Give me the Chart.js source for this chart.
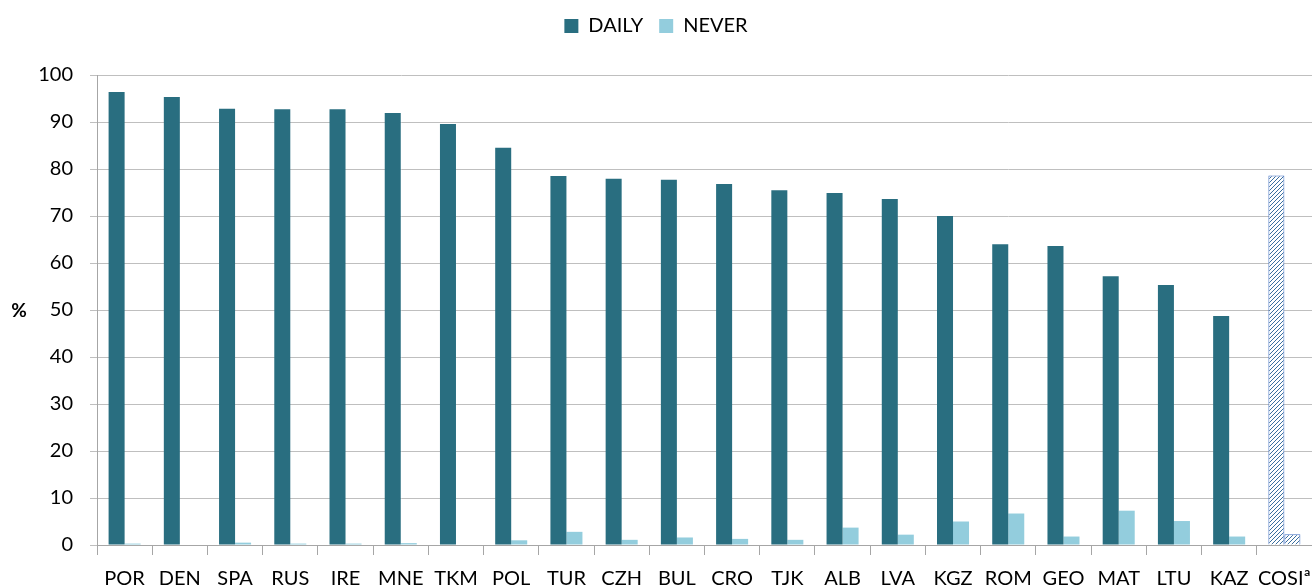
<!DOCTYPE html>
<html>
<head>
<meta charset="utf-8">
<script src="https://cdn.jsdelivr.net/npm/chart.js@4"></script>
<style>
  html, body { margin: 0; padding: 0; background: #fff; }
  #wrap { width: 1312px; height: 585px; position: relative; }
</style>
</head>
<body>
<div id="wrap"><canvas id="chart"></canvas></div>
<script>
const countries = ['POR', 'DEN', 'SPA', 'RUS', 'IRE', 'MNE', 'TKM', 'POL', 'TUR', 'CZH', 'BUL',
    'CRO', 'TJK', 'ALB', 'LVA', 'KGZ', 'ROM', 'GEO', 'MAT', 'LTU', 'KAZ', 'COSIª'];
const daily = [96.4, 95.3, 92.8, 92.7, 92.7, 91.9, 89.6, 84.5, 78.5, 77.9, 77.7,
    76.8, 75.5, 74.9, 73.6, 70.0, 64.0, 63.6, 57.2, 55.3, 48.7, 78.6];
const never = [0.3, 0.1, 0.5, 0.3, 0.3, 0.4, 0.0, 1.0, 2.8, 1.1, 1.6,
    1.3, 1.1, 3.7, 2.2, 5.0, 6.7, 1.8, 7.3, 5.1, 1.8, 2.3];
const yTicks = [0, 10, 20, 30, 40, 50, 60, 70, 80, 90, 100];

const darkColor = 'rgb(41,110,128)';
const lightColor = 'rgb(147,205,221)';
const hatchColor = '#4472C4';
const hatchLine = '#3A6E9E';
const cosiIndex = countries.length - 1;
const fontFamily = 'Lato';

// hatch pattern for the COSI bars, drawn pixel by pixel so it stays crisp
function makeHatch() {
    const c = document.createElement('canvas');
    c.width = 4;
    c.height = 4;
    const g = c.getContext('2d');
    g.fillStyle = '#fff';
    g.fillRect(0, 0, 4, 4);
    g.fillStyle = hatchLine;
    for (let i = 0; i < 4; i++) {
        g.fillRect(i, 3 - i, 1, 1);
    }
    return g.createPattern(c, 'repeat');
}
const hatch = makeHatch();

// "%" title, horizontal, left of the axis
const percentTitle = {
    id: 'percentTitle',
    afterDraw(chart) {
        const ctx = chart.ctx;
        ctx.save();
        ctx.font = 'bold 19px ' + fontFamily;
        ctx.fillStyle = '#000';
        ctx.textAlign = 'center';
        ctx.textBaseline = 'middle';
        ctx.fillText('%', 19, 311);
        ctx.restore();
    }
};

// extra room under the legend so the plot starts lower
const legendGap = {
    id: 'legendGap',
    beforeInit(chart) {
        const fit = chart.legend.fit;
        chart.legend.fit = function() {
            fit.bind(chart.legend)();
            this.height += 29;
        };
    }
};

const ctx = document.getElementById('chart').getContext('2d');
window.myChart = new Chart(ctx, {
    type: 'bar',
    data: {
        labels: countries,
        datasets: [{
            label: 'DAILY',
            data: daily,
            backgroundColor: (c) => c.dataIndex === cosiIndex ? hatch : darkColor,
            borderColor: (c) => c.dataIndex === cosiIndex ? hatchColor : darkColor,
            borderWidth: (c) => c.dataIndex === cosiIndex ? 1 : 0,
            categoryPercentage: 0.58,
            barPercentage: 1
        }, {
            label: 'NEVER',
            data: never,
            backgroundColor: (c) => c.dataIndex === cosiIndex ? hatch : lightColor,
            borderColor: (c) => c.dataIndex === cosiIndex ? hatchColor : lightColor,
            borderWidth: (c) => c.dataIndex === cosiIndex ? 1 : 0,
            categoryPercentage: 0.58,
            barPercentage: 1
        }]
    },
    options: {
        responsive: true,
        maintainAspectRatio: false,
        animation: false,
        layout: { padding: { top: 0, left: 0, right: 0, bottom: 0 } },
        plugins: {
            legend: {
                position: 'top',
                labels: {
                    boxWidth: 14,
                    boxHeight: 14,
                    padding: 16,
                    color: '#000',
                    font: { family: fontFamily, size: 20 },
                    generateLabels: () => [
                        { text: 'DAILY', fillStyle: darkColor, strokeStyle: darkColor, lineWidth: 0, datasetIndex: 0 },
                        { text: 'NEVER', fillStyle: lightColor, strokeStyle: lightColor, lineWidth: 0, datasetIndex: 1 }
                    ]
                }
            },
            tooltip: { enabled: false }
        },
        scales: {
            x: {
                offset: true,
                grid: {
                    offset: true,
                    drawOnChartArea: false,
                    drawTicks: true,
                    tickLength: 10,
                    color: '#A6A6A6'
                },
                border: { color: '#A6A6A6' },
                afterFit: (scale) => {
                    scale.height = 40;
                    scale.paddingLeft = 0;
                    scale.paddingRight = 0;
                },
                ticks: {
                    color: '#000',
                    padding: 12,
                    maxRotation: 0,
                    autoSkip: false,
                    font: { family: fontFamily, size: 20 }
                }
            },
            y: {
                min: 0,
                max: 100,
                afterBuildTicks: (scale) => { scale.ticks = yTicks.map(v => ({ value: v })); },
                afterFit: (scale) => { scale.width = 97; },
                grid: {
                    color: '#BFBFBF',
                    tickLength: 7
                },
                border: { color: '#A6A6A6' },
                ticks: {
                    color: '#000',
                    padding: 17,
                    font: { family: fontFamily, size: 20 }
                }
            }
        }
    },
    plugins: [percentTitle, legendGap]
});
</script>
</body>
</html>
